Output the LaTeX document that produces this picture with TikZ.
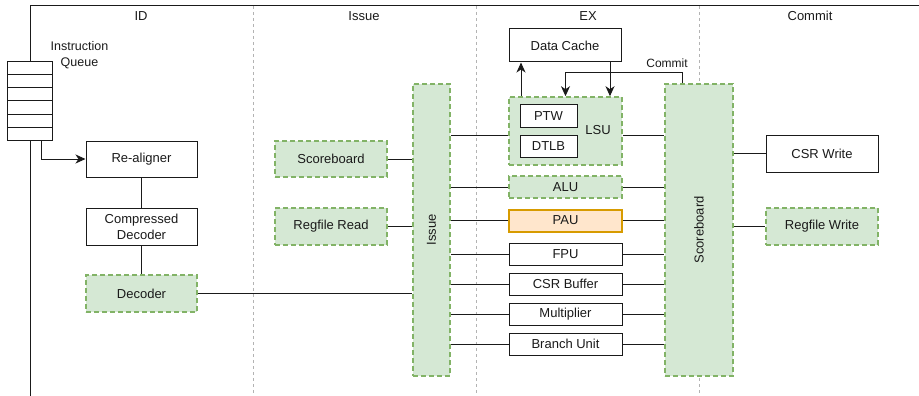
\documentclass[tikz,border=0pt]{standalone}
\usepackage{fontspec}
\setmainfont{Liberation Sans}
\usetikzlibrary{arrows.meta,calc}
\definecolor{gfill}{HTML}{D5E8D4}
\definecolor{gdraw}{HTML}{82B366}
\definecolor{ofill}{HTML}{FFE6CC}
\definecolor{odraw}{HTML}{D79B00}
\definecolor{lanecol}{HTML}{B3B3B3}
\definecolor{ink}{HTML}{1A1A1A}
\begin{document}
\begin{tikzpicture}[x=1pt,y=-1pt,
  font=\fontsize{13}{16}\selectfont,
  box/.style={draw=ink, line width=1pt, fill=white, inner sep=0pt, align=center, text=ink},
  gbox/.style={box, draw=gdraw, fill=gfill, dash pattern=on 5pt off 3pt, line width=1.6pt},
  obox/.style={box, draw=odraw, fill=ofill, line width=2pt},
  unit/.style={box, minimum width=113pt, minimum height=22pt},
  cell/.style={draw=ink, line width=1pt, fill=white, minimum width=45pt, minimum height=13pt, inner sep=0pt},
  lane/.style={draw=lanecol, line width=1pt, dash pattern=on 3pt off 3pt},
  wire/.style={draw=ink, line width=1pt},
  arr/.style={wire, -{Stealth[length=10pt,width=9pt,inset=3pt]}},
  lbl/.style={inner sep=0pt, text=ink}
]
\useasboundingbox (0,0) rectangle (919,396);

% lanes
\draw[lane] (253,6) -- (253,396);
\draw[lane] (476,6) -- (476,396);
\draw[lane] (699,6) -- (699,396);

% headers
\node[lbl] (hID) at (141,16) {ID};
\node[lbl] (hIssue) at (364,16) {Issue};
\node[lbl] (hEX) at (588,16) {EX};
\node[lbl] (hCommit) at (810,16) {Commit};

% instruction queue
\node[lbl, align=center, font=\fontsize{12.5}{16}\selectfont] (iqlabel) at (79.5,55.5) {Instruction\\Queue};
\foreach \i in {1,...,6} {
  \node[cell] (q\i) at (29.5,{55.5+13*\i}) {};
}
\coordinate (tl) at (30,6);
\coordinate (tr) at (919,6);
\coordinate (bl) at (30,396);
\draw[wire] (q1.north -| tl) -- (tl) -- (tr);
\draw[wire] (q6.south -| tl) -- (bl);

% ID stage
\node[box, minimum width=111pt, minimum height=36pt] (realign) at (141.5,159) {Re-aligner};
\node[box, minimum width=111pt, minimum height=37pt] (cdec) at (141.5,226.5) {Compressed\\Decoder};
\node[gbox, minimum width=111pt, minimum height=37pt] (dec) at (141.5,293.5) {Decoder};
\coordinate (qout) at (41,140);
\draw[arr] (qout) |- (realign.west);
\draw[wire] (realign) -- (cdec);
\draw[wire] (cdec) -- (dec);

% Issue stage
\node[gbox, minimum width=112pt, minimum height=36pt] (sbl) at (331,159) {Scoreboard};
\node[gbox, minimum width=112pt, minimum height=37pt] (rfr) at (331,226.5) {Regfile Read};
\node[gbox, minimum width=37pt, minimum height=292pt] (issue) at (431.5,230) {};
\node[lbl, rotate=90] (issuelbl) at (issue.center) {Issue};
\draw[wire] (sbl.east) -- (sbl.east -| issue.west);
\draw[wire] (rfr.east) -- (rfr.east -| issue.west);
\draw[wire] (dec.east) -- (dec.east -| issue.west);

% EX stage
\node[box, minimum width=112pt, minimum height=33pt] (dcache) at (565,45.5) {Data Cache};
\node[gbox, minimum width=113pt, minimum height=68pt] (lsu) at (565.5,131) {};
\node[box, minimum width=57pt, minimum height=22pt] (ptw) at (548.5,116) {PTW};
\node[box, minimum width=57pt, minimum height=22pt] (dtlb) at (548.5,146) {DTLB};
\node[lbl] (lsulbl) at (598,130) {LSU};
\node[gbox, minimum width=113pt, minimum height=22pt] (alu) at (565.5,187) {ALU};
\node[obox, minimum width=113pt, minimum height=22pt] (pau) at (565.5,220.5) {PAU};
\node[unit] (fpu) at (565.5,254.5) {FPU};
\node[unit] (csrb) at (565.5,284) {CSR Buffer};
\node[unit] (mult) at (565.5,314) {Multiplier};
\node[unit] (bru) at (565.5,344) {Branch Unit};

% Commit stage
\node[gbox, minimum width=68pt, minimum height=292pt] (sbr) at (699,230) {};
\node[lbl, rotate=90] (sbrlbl) at (sbr.center) {Scoreboard};
\node[box, minimum width=112pt, minimum height=37pt] (csrw) at (822,153.5) {CSR Write};
\node[gbox, minimum width=112pt, minimum height=37pt] (rfw) at (822,226.5) {Regfile Write};

% issue -> units -> scoreboard
\coordinate (lsuy) at (0,135);
\draw[wire] (issue.east |- lsuy) -- (lsu.west |- lsuy);
\draw[wire] (lsu.east |- lsuy) -- (sbr.west |- lsuy);
\foreach \u in {alu,pau,fpu,csrb,mult,bru} {
  \draw[wire] (issue.east |- \u.west) -- (\u.west);
  \draw[wire] (\u.east) -- (\u.east -| sbr.west);
}
\draw[wire] (sbr.east |- csrw.west) -- (csrw.west);
\draw[wire] (sbr.east |- rfw.west) -- (rfw.west);

% LSU <-> data cache
\coordinate (upx) at (521,0);
\coordinate (dnx) at (610,0);
\draw[arr] (lsu.north -| upx) -- (dcache.south -| upx);
\draw[arr] (dcache.south -| dnx) -- (lsu.north -| dnx);

% commit path
\coordinate (cmx) at (682,0);
\coordinate (cmy) at (0,73);
\draw[arr] (sbr.north -| cmx) -- (cmx |- cmy) -| (lsu.north);
\node[lbl, font=\fontsize{12}{14}\selectfont] (cmlbl) at (667,63) {Commit};
\end{tikzpicture}
\end{document}
